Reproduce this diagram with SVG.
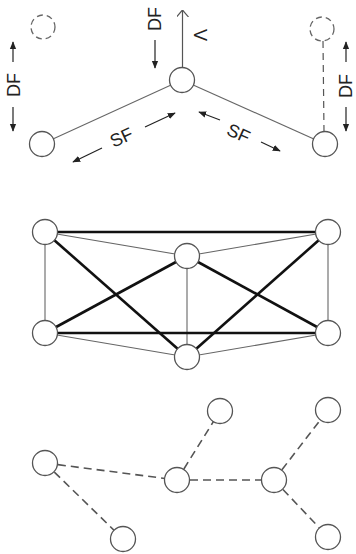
<svg xmlns="http://www.w3.org/2000/svg" width="356" height="554" viewBox="0 0 356 554">
<style>
.node{fill:#fff;stroke:#555;stroke-width:1.3}
.ghost{fill:none;stroke:#666;stroke-width:1.3;stroke-dasharray:6,4}
.thin{stroke:#666;stroke-width:1.1;fill:none}
.thick{stroke:#111;stroke-width:2.6;fill:none}
.dash{stroke:#555;stroke-width:1.6;stroke-dasharray:8,5;fill:none}
.arr{stroke:#222;stroke-width:1.2;fill:none;marker-end:url(#ah)}
.lbl{font-family:"Liberation Sans",Arial,sans-serif;font-size:18px;fill:#222}
</style>
<defs>
<marker id="ah" viewBox="0 0 10 10" refX="9" refY="5" markerWidth="8" markerHeight="8" orient="auto" markerUnits="userSpaceOnUse">
<path d="M0,1 L10,5 L0,9 z" fill="#222"/>
</marker>
<marker id="open" viewBox="0 0 10 10" refX="10" refY="5" markerWidth="7" markerHeight="12" orient="auto" markerUnits="userSpaceOnUse" preserveAspectRatio="none">
<path d="M0,0 L10,5 L0,10" fill="none" stroke="#555" stroke-width="1.2"/>
</marker>
</defs>

<g id="connectors">
<!-- top -->
<line class="thin" x1="42" y1="144" x2="182" y2="80"/>
<line class="thin" x1="182" y1="80" x2="325" y2="144"/>
<line class="dash" x1="323" y1="41" x2="324" y2="132" style="stroke-width:1.2;stroke-dasharray:7,5"/>
<line x1="182.5" y1="68" x2="182.5" y2="10" stroke="#555" stroke-width="1.2" marker-end="url(#open)"/>
<line class="arr" x1="155" y1="40" x2="155" y2="68"/>
<line class="arr" x1="13" y1="62" x2="13" y2="42"/>
<line class="arr" x1="13" y1="107" x2="13" y2="131"/>
<line class="arr" x1="346" y1="62" x2="346" y2="42"/>
<line class="arr" x1="346" y1="107" x2="346" y2="131"/>
<line class="arr" x1="145" y1="127" x2="175" y2="113"/>
<line class="arr" x1="102" y1="148" x2="73" y2="162"/>
<line class="arr" x1="220" y1="120" x2="199" y2="112"/>
<line class="arr" x1="261" y1="142" x2="280" y2="151"/>
<!-- middle -->
<line class="thin" x1="45" y1="232" x2="187" y2="256"/>
<line class="thin" x1="328" y1="232" x2="187" y2="256"/>
<line class="thin" x1="45" y1="232" x2="45" y2="333"/>
<line class="thin" x1="328" y1="232" x2="328" y2="333"/>
<line class="thin" x1="187" y1="256" x2="187" y2="357"/>
<line class="thin" x1="45" y1="333" x2="187" y2="357"/>
<line class="thin" x1="328" y1="333" x2="187" y2="357"/>
<line class="thick" x1="45" y1="232" x2="328" y2="232"/>
<line class="thick" x1="45" y1="333" x2="328" y2="333"/>
<line class="thick" x1="45" y1="232" x2="187" y2="357"/>
<line class="thick" x1="328" y1="232" x2="187" y2="357"/>
<line class="thick" x1="187" y1="256" x2="45" y2="333"/>
<line class="thick" x1="187" y1="256" x2="328" y2="333"/>
<!-- bottom -->
<line class="dash" x1="45" y1="463" x2="177" y2="480"/>
<line class="dash" x1="45" y1="463" x2="123" y2="539"/>
<line class="dash" x1="177" y1="480" x2="220" y2="411"/>
<line class="dash" x1="177" y1="480" x2="274" y2="480"/>
<line class="dash" x1="274" y1="480" x2="328" y2="410"/>
<line class="dash" x1="274" y1="480" x2="328" y2="537"/>
</g>

<g id="labels">
<text class="lbl" transform="translate(161,19) rotate(-90)" text-anchor="middle">DF</text>
<text class="lbl" transform="translate(20,85) rotate(-90)" text-anchor="middle">DF</text>
<text class="lbl" transform="translate(351.5,86) rotate(-90)" text-anchor="middle">DF</text>
<text class="lbl" transform="translate(194,35) rotate(90)" text-anchor="middle">V</text>
<text class="lbl" transform="translate(124,143) rotate(-24.6)" text-anchor="middle">SF</text>
<text class="lbl" transform="translate(236,139) rotate(24.1)" text-anchor="middle">SF</text>
</g>

<g id="top-ghost-left"><circle class="ghost" cx="43" cy="27" r="12"/></g>
<g id="top-ghost-right"><circle class="ghost" cx="322" cy="29" r="12"/></g>
<g id="top-left"><circle class="node" cx="42" cy="144" r="12.5"/></g>
<g id="top-center"><circle class="node" cx="182" cy="80" r="12.5"/></g>
<g id="top-right"><circle class="node" cx="325" cy="144" r="12.5"/></g>

<g id="mid-tl"><circle class="node" cx="45" cy="232" r="12.5"/></g>
<g id="mid-tr"><circle class="node" cx="328" cy="232" r="12.5"/></g>
<g id="mid-tc"><circle class="node" cx="187" cy="256" r="12.5"/></g>
<g id="mid-bl"><circle class="node" cx="45" cy="333" r="12.5"/></g>
<g id="mid-br"><circle class="node" cx="328" cy="333" r="12.5"/></g>
<g id="mid-bc"><circle class="node" cx="187" cy="357" r="12.5"/></g>

<g id="bot-a"><circle class="node" cx="45" cy="463" r="12.5"/></g>
<g id="bot-b"><circle class="node" cx="123" cy="539" r="12.5"/></g>
<g id="bot-c"><circle class="node" cx="177" cy="480" r="12.5"/></g>
<g id="bot-d"><circle class="node" cx="220" cy="411" r="12.5"/></g>
<g id="bot-e"><circle class="node" cx="274" cy="480" r="12.5"/></g>
<g id="bot-f"><circle class="node" cx="328" cy="410" r="12.5"/></g>
<g id="bot-g"><circle class="node" cx="328" cy="537" r="12.5"/></g>
</svg>
